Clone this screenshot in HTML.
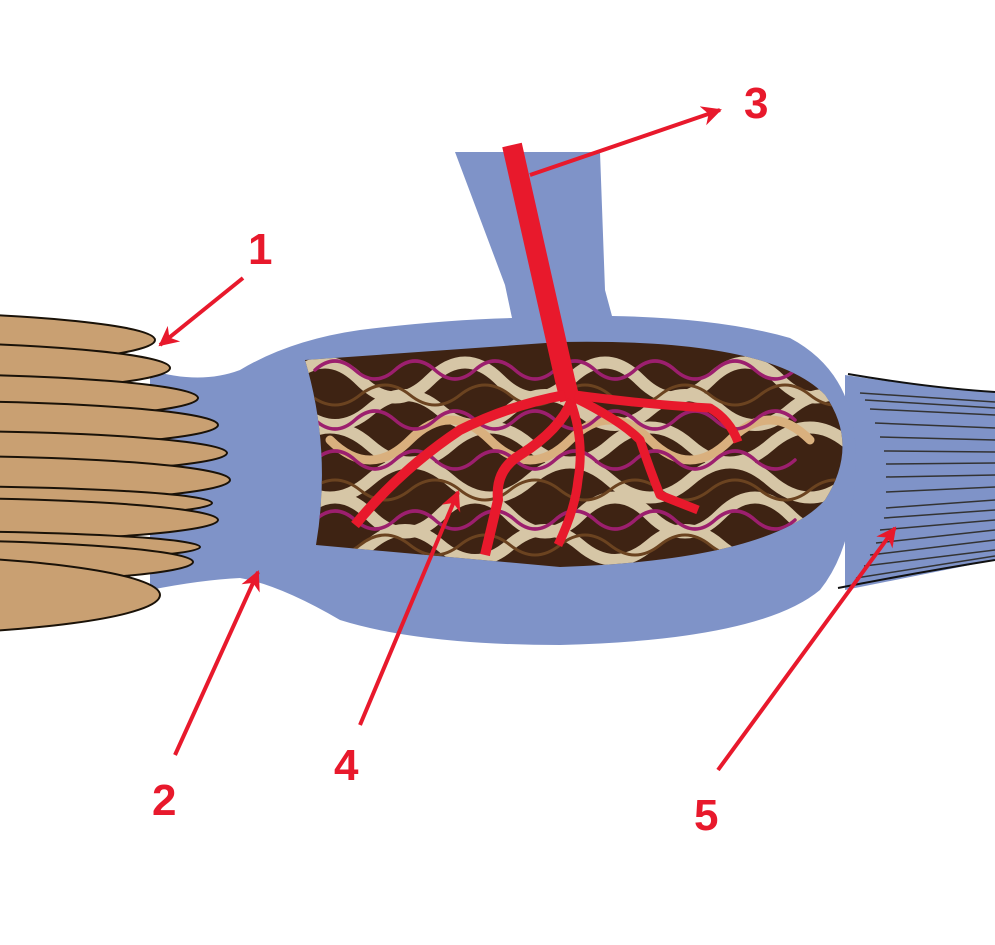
<!DOCTYPE html>
<html><head><meta charset="utf-8"><style>
html,body{margin:0;padding:0;background:#fff;}
svg{display:block;}
text{font-family:"Liberation Sans",sans-serif;font-weight:bold;font-size:44px;fill:#e8192c;}
</style></head><body>
<svg width="995" height="945" viewBox="0 0 995 945" xmlns="http://www.w3.org/2000/svg">
<defs>
<clipPath id="cav"><path d="M305,360 L560,342 Q770,338 825,395 Q860,445 825,500 Q770,560 560,567 L316,545 Q332,450 305,360 Z"/></clipPath>
<marker id="ah" viewBox="0 0 10 10" refX="9" refY="5" markerWidth="5" markerHeight="5" orient="auto" markerUnits="strokeWidth"><path d="M0,0 L10,5 L0,10 L3,5 Z" fill="#e8192c"/></marker>
</defs>
<!-- tendon right -->
<path d="M845,375 Q930,388 995,392 L995,560 Q920,575 845,590 Z" fill="#7f93c8"/>
<path d="M848,374 Q930,388 995,392" stroke="#111" stroke-width="2" fill="none"/>
<path d="M838,588 Q920,572 995,560" stroke="#111" stroke-width="2" fill="none"/>
<g stroke="#333" stroke-width="1.5" fill="none">
<path d="M860,393 L995,402"/><path d="M865,400 L995,408"/><path d="M870,409 L995,415"/><path d="M875,423 L995,428"/><path d="M880,437 L995,440"/><path d="M884,451 L995,452"/><path d="M886,464 L995,463"/><path d="M886,477 L995,475"/><path d="M886,492 L995,487"/><path d="M886,508 L995,500"/><path d="M884,518 L995,510"/><path d="M880,530 L995,520"/><path d="M876,543 L995,530"/><path d="M870,555 L995,540"/><path d="M864,566 L995,550"/><path d="M856,578 L995,556"/>
</g>
<!-- main blue body -->
<path d="M150,370 Q200,385 240,370 Q290,340 360,330 Q440,320 512,318 L505,285 L455,152 L600,152 L605,290 L612,316 Q720,318 790,338 Q850,370 855,440 Q860,540 820,590 Q760,640 560,645 Q420,645 340,620 Q280,585 240,578 Q200,580 150,590 Z" fill="#7f93c8"/>
<!-- cavity -->
<path d="M305,360 L560,342 Q770,338 825,395 Q860,445 825,500 Q770,560 560,567 L316,545 Q332,450 305,360 Z" fill="#3e2313"/>
<g clip-path="url(#cav)" fill="none" stroke-linecap="round">
<g stroke="#d6c6a6" stroke-width="12">
<path d="M290,380 q35,-35 70,0 t70,0 t70,0 t70,0 t70,0 t70,0 t70,0 t70,0"/>
<path d="M300,410 q35,30 70,0 t70,0 t70,0 t70,0 t70,0 t70,0 t70,0 t70,0"/>
<path d="M290,445 q40,-35 80,0 t80,0 t80,0 t80,0 t80,0 t80,0 t80,0"/>
<path d="M290,480 q40,35 80,0 t80,0 t80,0 t80,0 t80,0 t80,0 t80,0"/>
<path d="M300,515 q35,-35 70,0 t70,0 t70,0 t70,0 t70,0 t70,0 t70,0 t70,0"/>
<path d="M300,545 q35,30 70,0 t70,0 t70,0 t70,0 t70,0 t70,0 t70,0 t70,0"/>
</g>
<path d="M330,440 q40,40 80,0 t80,0 t80,0 t80,0 t80,0 t80,0" stroke="#d9b07e" stroke-width="9"/>
<g stroke="#9c1f6e" stroke-width="3.5">
<path d="M315,370 q20,-18 40,0 t40,0 t40,0 t40,0 t40,0 t40,0 t40,0 t40,0 t40,0 t40,0 t40,0 t40,0"/>
<path d="M315,420 q20,18 40,0 t40,0 t40,0 t40,0 t40,0 t40,0 t40,0 t40,0 t40,0 t40,0 t40,0 t40,0"/>
<path d="M315,460 q20,-18 40,0 t40,0 t40,0 t40,0 t40,0 t40,0 t40,0 t40,0 t40,0 t40,0 t40,0 t40,0"/>
<path d="M315,520 q20,-18 40,0 t40,0 t40,0 t40,0 t40,0 t40,0 t40,0 t40,0 t40,0 t40,0 t40,0 t40,0"/>
</g>
<g stroke="#6b4320" stroke-width="3">
<path d="M310,395 q25,20 50,0 t50,0 t50,0 t50,0 t50,0 t50,0 t50,0 t50,0 t50,0 t50,0 t50,0"/>
<path d="M310,490 q25,-20 50,0 t50,0 t50,0 t50,0 t50,0 t50,0 t50,0 t50,0 t50,0 t50,0 t50,0"/>
<path d="M310,545 q25,20 50,0 t50,0 t50,0 t50,0 t50,0 t50,0 t50,0 t50,0 t50,0 t50,0 t50,0"/>
</g>
</g>
<!-- blood vessel -->
<g stroke="#e8192c" fill="none" stroke-linecap="butt" stroke-linejoin="round">
<path d="M512,145 L565,380 L570,400" stroke-width="20"/>
<path d="M565,395 Q510,405 460,430 Q400,470 355,525" stroke-width="10"/>
<path d="M572,400 Q560,430 520,455 Q495,470 498,500 L485,555" stroke-width="10"/>
<path d="M570,400 Q585,440 578,480 Q575,510 558,545" stroke-width="9"/>
<path d="M575,398 Q620,420 640,440 Q650,470 660,495 L698,510" stroke-width="9"/>
<path d="M575,395 Q650,405 710,408 Q730,420 738,442" stroke-width="9"/>
</g>
<!-- muscle fibers left -->
<g fill="#c9a072" stroke="#1a1208" stroke-width="2">
<ellipse cx="-145" cy="340" rx="300" ry="28"/>
<ellipse cx="-130" cy="368" rx="300" ry="26"/>
<ellipse cx="-100" cy="398" rx="298" ry="24"/>
<ellipse cx="-82" cy="425" rx="300" ry="24"/>
<ellipse cx="-73" cy="453" rx="300" ry="22"/>
<ellipse cx="-70" cy="480" rx="300" ry="24"/>
<ellipse cx="-88" cy="503" rx="300" ry="17"/>
<ellipse cx="-82" cy="520" rx="300" ry="22"/>
<ellipse cx="-100" cy="547" rx="300" ry="16"/>
<ellipse cx="-107" cy="562" rx="300" ry="22"/>
<ellipse cx="-140" cy="595" rx="300" ry="40"/>
</g>
<!-- arrows -->
<g stroke="#e8192c" stroke-width="4" fill="none" marker-end="url(#ah)">
<line x1="243" y1="278" x2="160" y2="345"/>
<line x1="175" y1="755" x2="258" y2="572"/>
<line x1="530" y1="175" x2="720" y2="110"/>
<line x1="360" y1="725" x2="458" y2="492"/>
<line x1="718" y1="770" x2="895" y2="528"/>
</g>
<text x="248" y="264">1</text>
<text x="152" y="815">2</text>
<text x="744" y="118">3</text>
<text x="334" y="780">4</text>
<text x="694" y="830">5</text>
</svg>
</body></html>
